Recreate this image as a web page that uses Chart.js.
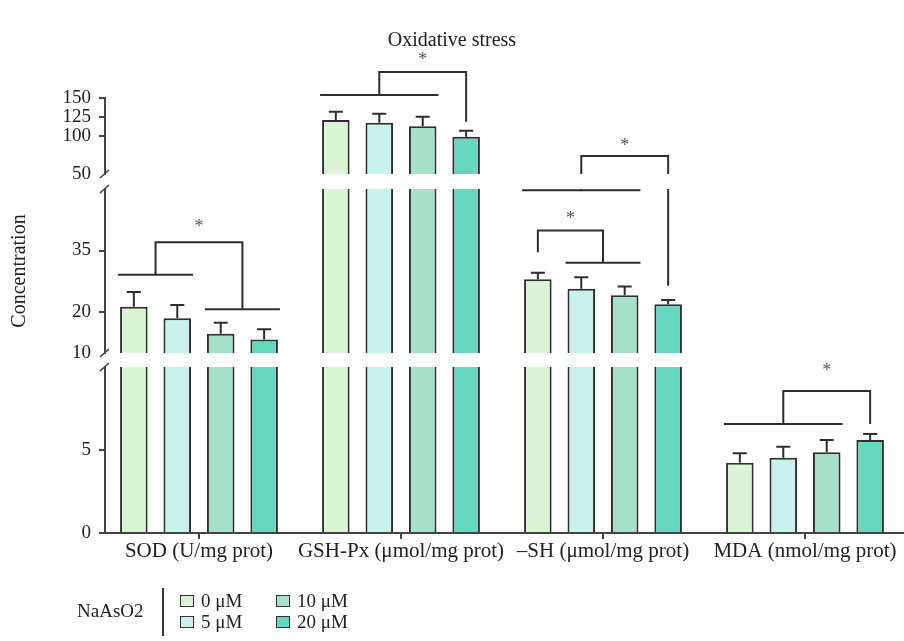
<!DOCTYPE html>
<html>
<head>
<meta charset="utf-8">
<style>
  html, body { margin: 0; padding: 0; background: #fff; overflow: hidden; }
  #wrap { position: relative; width: 904px; height: 641px; }
  #legend { position: absolute; left: 0; top: 0; width: 904px; height: 641px; pointer-events: none;
            font-family: 'Liberation Serif', 'DejaVu Serif', serif; font-size: 19px; color: #222; }
  #legend .txt { position: absolute; line-height: 20px; white-space: nowrap; }
  #legend .box { position: absolute; width: 12px; height: 10px; border: 1.5px solid #333; }
  #legend .rule { position: absolute; width: 1.5px; background: #333; }
</style>
<script src="https://cdn.jsdelivr.net/npm/chart.js@4.4.1/dist/chart.umd.min.js"></script>
</head>
<body>
<div id="wrap">
  <canvas id="c" width="904" height="641"></canvas>
  <div id="legend"></div>
</div>
<script>
// ---- data ----
const categories = ['SOD (U/mg prot)', 'GSH-Px (μmol/mg prot)', '–SH (μmol/mg prot)', 'MDA (nmol/mg prot)'];
const doseLabels = ['0 μM', '5 μM', '10 μM', '20 μM'];
const mean0uM  = [21.3, 121.1, 28.0, 4.23];
const mean5uM  = [18.5, 117.5, 25.7, 4.54];
const mean10uM = [14.7, 112.8, 24.1, 4.86];
const mean20uM = [13.3,  99.1, 21.9, 5.6];
const sd0uM  = [3.6, 10.9, 1.6, 0.57];
const sd5uM  = [3.2, 11.8, 2.8, 0.66];
const sd10uM = [2.7, 12.6, 2.1, 0.74];
const sd20uM = [2.5,  7.9, 1.0, 0.36];

// broken value axis: three pieces
const rangeLow  = [0, 10];
const rangeMid  = [10, 50];
const rangeHigh = [50, 150];
const ticksLow  = [0, 5];
const ticksMid  = [10, 20, 35];
const ticksHigh = [50, 100, 125, 150];

// horizontal group lines: [category, first bar, last bar, level]
const groupLines = [
  [0, 0, 1, 29.1], [0, 2, 3, 20.7],
  [1, 0, 2, 153.9],
  [2, 0, 2, 49.7], [2, 1, 2, 32.0],
  [3, 0, 2, 6.57]
];
// significance brackets:
// [category, left bars from, to, right bars from, to, left leg end, right leg end, bridge level, star level]
const brackets = [
  [0, 0, 1, 2, 3, 29.1, 20.7, 37.0, 41.5],
  [1, 0, 2, 3, 3, 153.9, 118.8, 184.2, 204.3],
  [2, 0, 0, 1, 2, 34.6, 32.0, 39.9, 43.4],
  [2, 0, 2, 3, 3, 49.7, 26.4, 73.7, 90.4],
  [3, 0, 2, 3, 3, 6.57, 6.57, 8.55, 9.92]
];

const means = [mean0uM, mean5uM, mean10uM, mean20uM];
const sds = [sd0uM, sd5uM, sd10uM, sd20uM];

// ---- styling ----
const FONT = "'Liberation Serif', 'DejaVu Serif', serif";
const INK = '#2e2e2e';
const AXIS = '#444';
const fills = ['#d9f5d3', '#c9f1ed', '#a7e1c9', '#66d7bf'];
const pieceAxes = ['yLow', 'yMid', 'yHigh'];

// one dataset per dose per axis piece; each is clipped to its own piece
const datasets = [];
means.forEach((vals, s) => {
  pieceAxes.forEach(ax => {
    datasets.push({
      label: doseLabels[s],
      data: categories.map((c, i) => ({ x: i, y: vals[i] })),
      yAxisID: ax,
      xAxisID: 'x',
      stack: 'dose' + s,
      backgroundColor: fills[s],
      borderColor: INK,
      borderWidth: 2,
      borderSkipped: 'start',
      categoryPercentage: 0.86,
      barPercentage: 0.634
    });
  });
});

function pieceFor(chart, v) {
  const s = chart.scales;
  if (v <= rangeLow[1]) return s.yLow;
  if (v <= rangeMid[1]) return s.yMid;
  return s.yHigh;
}
function yPix(chart, v) { return pieceFor(chart, v).getPixelForValue(v); }
function barEl(chart, dose, cat) {
  return chart.getDatasetMeta(dose * pieceAxes.length).data[cat];
}

const pieceClip = {
  id: 'pieceClip',
  beforeDatasetDraw(chart, args) {
    const { xScale, yScale } = args.meta;
    const c = chart.ctx;
    c.save();
    c.beginPath();
    c.rect(xScale.left, yScale.top, xScale.right - xScale.left, yScale.bottom - yScale.top);
    c.clip();
  },
  afterDatasetDraw(chart) { chart.ctx.restore(); }
};

const errorBars = {
  id: 'errorBars',
  afterDatasetsDraw(chart) {
    const c = chart.ctx;
    c.save();
    c.strokeStyle = INK;
    c.lineWidth = 2;
    means.forEach((vals, s) => {
      vals.forEach((v, i) => {
        const el = barEl(chart, s, i);
        const x = el.x;
        const y0 = yPix(chart, v);
        const y1 = yPix(chart, v + sds[s][i]);
        c.beginPath();
        c.moveTo(x, y0); c.lineTo(x, y1);
        c.moveTo(x - 7, y1); c.lineTo(x + 7, y1);
        c.stroke();
      });
    });
    c.restore();
  }
};

const sigMarks = {
  id: 'sigMarks',
  afterDatasetsDraw(chart) {
    const c = chart.ctx;
    const s = chart.scales;
    const spanX = (cat, a, b) => {
      const ea = barEl(chart, a, cat), eb = barEl(chart, b, cat);
      return [ea.x - ea.width / 2, eb.x + eb.width / 2];
    };
    const stars = [];
    c.save();
    // keep the axis gaps empty
    c.beginPath();
    c.rect(0, 0, chart.width, s.yHigh.bottom);
    c.rect(0, s.yMid.top, chart.width, s.yMid.bottom - s.yMid.top);
    c.rect(0, s.yLow.top, chart.width, chart.height - s.yLow.top);
    c.clip();
    c.strokeStyle = INK;
    c.lineWidth = 2;
    groupLines.forEach(([cat, a, b, lvl]) => {
      const [l, r] = spanX(cat, a, b);
      const y = yPix(chart, lvl);
      c.beginPath(); c.moveTo(l - 2, y); c.lineTo(r + 2, y); c.stroke();
    });
    brackets.forEach(([cat, la, lb, ra, rb, lEnd, rEnd, bridge, star]) => {
      const L = spanX(cat, la, lb), R = spanX(cat, ra, rb);
      const xl = (L[0] + L[1]) / 2, xr = (R[0] + R[1]) / 2;
      const yt = yPix(chart, bridge);
      c.beginPath();
      c.moveTo(xl, yPix(chart, lEnd));
      c.lineTo(xl, yt);
      c.lineTo(xr, yt);
      c.lineTo(xr, yPix(chart, rEnd));
      c.stroke();
      stars.push([(xl + xr) / 2, yPix(chart, star)]);
    });
    c.restore();
    // significance stars
    c.save();
    c.fillStyle = '#555';
    c.font = '18px ' + FONT;
    c.textAlign = 'center';
    c.textBaseline = 'alphabetic';
    stars.forEach(([x, y]) => c.fillText('*', x, y + 8));
    c.restore();
  }
};

const breakMarks = {
  id: 'breakMarks',
  afterDraw(chart) {
    const s = chart.scales;
    const c = chart.ctx;
    const x = s.yLow.right;
    c.save();
    c.strokeStyle = AXIS;
    c.lineWidth = 1.6;
    [s.yHigh.bottom, s.yMid.top, s.yMid.bottom, s.yLow.top].forEach(y => {
      c.beginPath();
      c.moveTo(x - 5, y + 4);
      c.lineTo(x + 4, y - 4);
      c.stroke();
    });
    c.restore();
  }
};

const tickFont = { family: FONT, size: 19 };
const labelFont = { family: FONT, size: 21 };
const fixWidth = sc => { sc.width = 105; };

function pieceAxis(range, ticks, weight, extra) {
  return Object.assign({
    type: 'linear',
    position: 'left',
    stack: 'value',
    stackWeight: weight,
    min: range[0],
    max: range[1],
    afterBuildTicks: sc => { sc.ticks = ticks.map(v => ({ value: v })); },
    afterFit: fixWidth,
    ticks: { font: tickFont, color: '#222', padding: 8, autoSkip: false },
    grid: {
      drawOnChartArea: false,
      drawTicks: true,
      tickLength: 6,
      lineWidth: 2,
      color: AXIS,
      tickColor: ctx => (ctx.tick && ctx.tick.value === range[0] && range[0] > 0) ? 'rgba(0,0,0,0)' : AXIS
    },
    border: { display: true, color: AXIS, width: 2 }
  }, extra || {});
}

function spacer(weight) {
  return {
    type: 'linear', position: 'left', stack: 'value', stackWeight: weight,
    afterFit: fixWidth,
    ticks: { display: false },
    grid: { display: false },
    border: { display: false }
  };
}

const chart = new Chart(document.getElementById('c'), {
  type: 'bar',
  data: { datasets },
  options: {
    responsive: false,
    animation: false,
    devicePixelRatio: 1,
    layout: { padding: { left: 0, right: 0, top: 0, bottom: 74 } },
    plugins: {
      legend: { display: false },
      tooltip: { enabled: false },
      title: {
        display: true,
        text: 'Oxidative stress',
        color: '#222',
        font: { family: FONT, size: 20, weight: 'normal' },
        padding: { top: 29, bottom: 45 }
      }
    },
    scales: {
      x: {
        type: 'linear',
        offset: false,
        min: -0.4653,
        max: 3.4901,
        afterBuildTicks: sc => { sc.ticks = categories.map((c, i) => ({ value: i })); },
        afterFit: sc => { sc.height = 34; },
        ticks: {
          font: labelFont, color: '#222', padding: 0,
          autoSkip: false, maxRotation: 0,
          callback: v => categories[v]
        },
        grid: { offset: false, drawOnChartArea: false, drawTicks: true, tickLength: 6, lineWidth: 2, color: AXIS },
        border: { color: AXIS, width: 2, z: 1 }
      },
      yLow: pieceAxis(rangeLow, ticksLow, 166),
      gapLow: spacer(14),
      yMid: pieceAxis(rangeMid, ticksMid, 164, {
        title: { display: true, text: 'Concentration', color: '#222', font: { family: FONT, size: 20 }, padding: { top: 8, bottom: 0 } }
      }),
      gapHigh: spacer(15),
      yHigh: pieceAxis(rangeHigh, ticksHigh, 76)
    }
  },
  plugins: [pieceClip, errorBars, sigMarks, breakMarks]
});

// ---- legend ----
(function buildLegend() {
  const host = document.getElementById('legend');
  const add = (cls, css, text) => {
    const d = document.createElement('div');
    d.className = cls;
    Object.assign(d.style, css);
    if (text) d.textContent = text;
    host.appendChild(d);
    return d;
  };
  add('txt', { left: '77px', top: '601px' }, 'NaAsO2');
  add('rule', { left: '162px', top: '588px', height: '48px' });
  const colX = [180, 276];
  const rowY = [601, 622];
  doseLabels.forEach((lab, k) => {
    const col = Math.floor(k / 2), row = k % 2;
    add('box', { left: colX[col] + 'px', top: (rowY[row] - 6) + 'px', background: fills[k] });
    add('txt', { left: (colX[col] + 21) + 'px', top: (rowY[row] - 10) + 'px' }, lab);
  });
})();
</script>
</body>
</html>
